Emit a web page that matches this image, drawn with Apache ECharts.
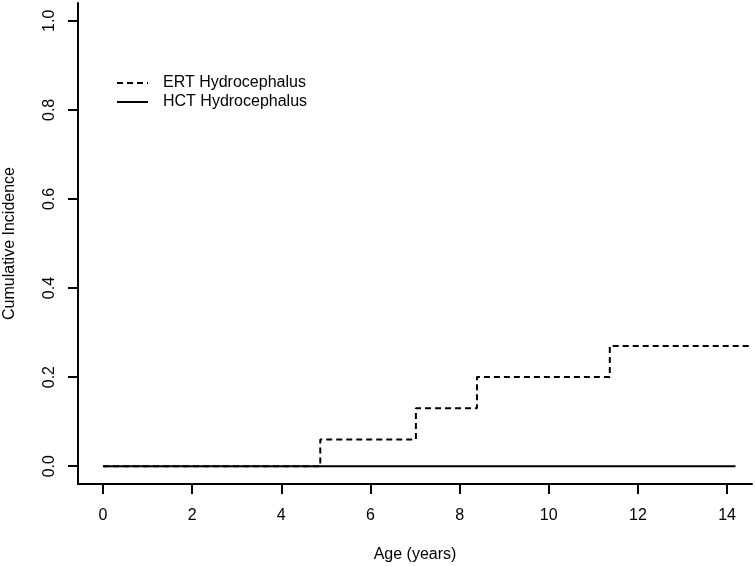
<!DOCTYPE html>
<html>
<head>
<meta charset="utf-8">
<script src="https://cdn.jsdelivr.net/npm/echarts@6/dist/echarts.min.js"></script>
<style>
  html, body { margin: 0; padding: 0; background: #fff; }
  #chart { width: 755px; height: 566px; }
</style>
</head>
<body>
<div id="chart"></div>
<script>
// ERT: step curve (age, cumulative incidence)
const ertAges = [0, 4.875, 7.02, 8.39, 11.37, 14.56];
const ertValues = [0, 0.06, 0.13, 0.2, 0.27, 0.27];
// HCT: flat at zero
const hctAges = [0, 14.19];
const hctValues = [0, 0];

const xTicks = [0, 2, 4, 6, 8, 10, 12, 14];
const yTicks = [0, 0.2, 0.4, 0.6, 0.8, 1.0];

const font = "Liberation Sans, Arial, sans-serif";
const ink = "#000";

const chart = echarts.init(document.getElementById("chart"));

const option = {
  animation: false,
  backgroundColor: "#fff",
  textStyle: { fontFamily: font, color: ink },
  grid: { left: 78, right: 3, top: 3, bottom: 82, outerBoundsMode: "none" },
  legend: {
    orient: "vertical",
    left: 116,
    top: 75,
    padding: 0,
    itemWidth: 31,
    itemHeight: 14,
    itemGap: 3,
    data: ["ERT Hydrocephalus", "HCT Hydrocephalus"],
    itemStyle: { opacity: 0 },
    textStyle: { fontSize: 16, color: ink, fontFamily: font, padding: [0, 0, 0, 10] },
  },
  xAxis: {
    type: "value",
    min: -0.56,
    max: 14.56,
    name: "Age (years)",
    nameLocation: "middle",
    nameGap: 63,
    nameTextStyle: { fontSize: 16, color: ink, fontFamily: font },
    splitLine: { show: false },
    axisLine: { onZero: false, lineStyle: { color: ink, width: 2 } },
    axisTick: {
      customValues: xTicks,
      length: 10,
      lineStyle: { color: ink, width: 2 },
    },
    axisLabel: {
      customValues: xTicks,
      margin: 24,
      fontSize: 16,
      color: ink,
      fontFamily: font,
    },
  },
  yAxis: {
    type: "value",
    min: -0.04,
    max: 1.04,
    name: "Cumulative Incidence",
    nameLocation: "middle",
    nameRotate: 90,
    nameGap: 60,
    nameTextStyle: { fontSize: 16, color: ink, fontFamily: font },
    splitLine: { show: false },
    axisLine: { show: true, onZero: false, lineStyle: { color: ink, width: 2 } },
    axisTick: {
      customValues: yTicks,
      length: 10,
      lineStyle: { color: ink, width: 2 },
    },
    axisLabel: {
      customValues: yTicks,
      rotate: 90,
      margin: 20,
      fontSize: 16,
      color: ink,
      fontFamily: font,
      formatter: (v) => v.toFixed(1),
    },
  },
  series: [
    {
      name: "ERT Hydrocephalus",
      type: "line",
      step: "end",
      symbol: "none",
      data: ertAges.map((a, i) => [a, ertValues[i]]),
      lineStyle: { color: ink, width: 2, type: [6, 4] },
      itemStyle: { color: ink },
      z: 2,
    },
    {
      name: "HCT Hydrocephalus",
      type: "line",
      symbol: "none",
      data: hctAges.map((a, i) => [a, hctValues[i]]),
      lineStyle: { color: ink, width: 2 },
      itemStyle: { color: ink },
      z: 3,
    },
  ],
};

chart.setOption(option);
</script>
</body>
</html>
